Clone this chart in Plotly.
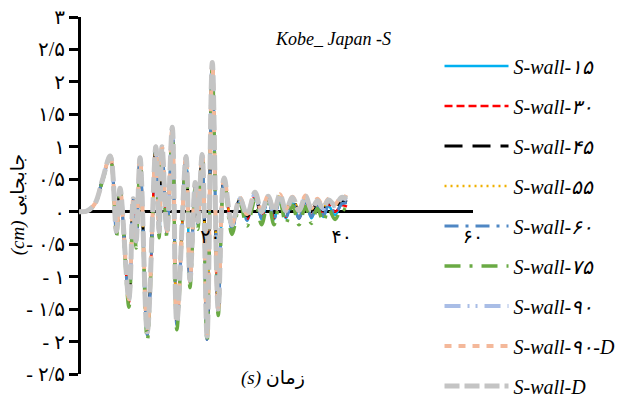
import plotly.graph_objects as go

# Persian digits for labels
FA = str.maketrans("0123456789", "۰۱۲۳۴۵۶۷۸۹")


def fa(s):
    return s.translate(FA)


# ---- data: time (s) and displacement (cm) ----
t_main = [0, 1.2, 2.4, 3.6, 4.75, 5.7, 6.25, 7.6, 8.25, 8.7, 9.3, 10.4, 11.7, 12.2,
          12.65, 13.4, 14.2, 14.9, 16.3, 16.9, 17.7, 18.1, 18.75, 19.5, 20.3, 21.2, 22.1]
v_main = [0, 0.01, 0.12, 0.5, 0.86, -0.3, 0.36, -1.35, 0.2, -0.45, 0.83, -1.85, 1.0, -0.3,
          1.0, -0.3, 1.3, -1.7, 0.85, -1.05, 0.45, -0.15, 0.88, -1.92, 2.3, -1.5, 0.52]
v_main_lo = [0, 0.01, 0.12, 0.5, 0.85, -0.34, 0.35, -1.4, 0.18, -0.5, 0.82, -1.9, 0.98, -0.34,
             0.98, -0.34, 1.28, -1.75, 0.83, -1.1, 0.43, -0.2, 0.86, -1.97, 2.28, -1.55, 0.5]
v_main_75 = [0, 0.01, 0.11, 0.48, 0.83, -0.38, 0.32, -1.47, 0.14, -0.56, 0.78, -1.98, 0.94, -0.4,
             0.94, -0.4, 1.24, -1.82, 0.79, -1.17, 0.39, -0.27, 0.82, -2.02, 2.24, -1.6, 0.46]

t_tail = [23.3, 24.5, 25.6, 26.8, 27.8, 28.8, 29.7, 30.6, 31.5, 32.5, 33.5, 34.5, 35.4,
          36.3, 37.2, 38.0, 39.0, 40.0, 40.8]
tail_15 = [-0.27, 0.15, -0.14, 0.23, -0.12, 0.18, -0.12, 0.19, -0.1, 0.15, -0.11, 0.14, -0.1,
           0.1, -0.08, 0.09, -0.05, 0.12, 0.14]
tail_30 = [-0.25, 0.17, -0.12, 0.25, -0.08, 0.2, -0.1, 0.22, -0.08, 0.18, -0.1, 0.17, -0.06,
           0.13, -0.04, 0.12, 0.0, 0.1, 0.08]
tail_45 = [-0.22, 0.19, -0.07, 0.27, -0.03, 0.22, -0.02, 0.24, 0.0, 0.2, 0.0, 0.21, 0.01,
           0.15, 0.02, 0.15, 0.05, 0.17, 0.15]
tail_55 = [-0.2, 0.21, -0.05, 0.29, 0.0, 0.24, 0.01, 0.26, 0.02, 0.22, 0.03, 0.23, 0.04,
           0.18, 0.05, 0.19, 0.1, 0.21, 0.2]
tail_60 = [-0.26, 0.16, -0.13, 0.24, -0.1, 0.19, -0.11, 0.2, -0.09, 0.16, -0.1, 0.15, -0.08,
           0.11, -0.06, 0.1, -0.03, 0.12, 0.14]
tail_75 = [-0.35, 0.12, -0.22, 0.18, -0.2, 0.14, -0.2, 0.15, -0.18, 0.1, -0.2, 0.08, -0.18,
           0.05, -0.15, 0.04, -0.12, 0.05, 0.0]
tail_90 = [-0.21, 0.2, -0.06, 0.28, -0.01, 0.23, -0.01, 0.25, 0.01, 0.21, 0.01, 0.22, 0.02,
           0.16, 0.04, 0.17, 0.08, 0.2, 0.18]
tail_90D = [-0.2, 0.22, -0.04, 0.3, 0.02, 0.25, 0.02, 0.27, 0.04, 0.23, 0.04, 0.25, 0.06,
            0.2, 0.08, 0.2, 0.12, 0.24, 0.22]
tail_D = [-0.2, 0.2, -0.05, 0.3, 0.0, 0.24, 0.0, 0.27, 0.02, 0.22, 0.02, 0.24, 0.03,
          0.17, 0.05, 0.18, 0.1, 0.22, 0.2]

names = ["S-wall-15", "S-wall-30", "S-wall-45", "S-wall-55", "S-wall-60",
         "S-wall-75", "S-wall-90", "S-wall-90-D", "S-wall-D"]
mains = [v_main_lo, v_main_lo, v_main, v_main, v_main_lo, v_main_75, v_main, v_main, v_main]
tails = [tail_15, tail_30, tail_45, tail_55, tail_60, tail_75, tail_90, tail_90D, tail_D]

colors = ["#00B0F0", "#FF0000", "#000000", "#F0B000", "#4F87C4",
          "#6AAA44", "#A9BDE6", "#F4B89A", "#C4C4C4"]
dashes = ["solid", "8px,4px", "18px,10px", "2px,4px", "14px,7px,3px,7px",
          "16px,9px,3px,9px", "16px,7px,2px,6px,2px,7px", "7px,7px", "15px,5px"]
widths = [2.5, 2.5, 3, 2.5, 3, 3.5, 4, 4, 5]

y_ticks = [3, 2.5, 2, 1.5, 1, 0.5, 0, -0.5, -1, -1.5, -2, -2.5]
y_ticktext = [fa(f"{v:g}".replace(".", "/")).replace("-", "- ") for v in y_ticks]
x_ticks = [20, 40, 60]
x_ticktext = [fa(str(v)) for v in x_ticks]

fig = go.Figure()
for i, name in enumerate(names):
    fig.add_trace(go.Scatter(
        x=t_main + t_tail, y=mains[i] + tails[i],
        mode="lines", name=fa(name), legendgroup=f"g{i}",
        line=dict(color=colors[i], width=widths[i], dash=dashes[i],
                  shape="spline", smoothing=1.0),
        hoverinfo="skip",
    ))

serif = "Liberation Serif, DejaVu Sans"

fig.update_layout(
    width=625, height=418,
    margin=dict(l=79, r=152, t=17, b=44, autoexpand=False),
    paper_bgcolor="white", plot_bgcolor="white",
    showlegend=True,
    legend=dict(
        x=0.915, y=0.889, xanchor="left", yanchor="top", yref="container",
        itemwidth=64, tracegroupgap=11, maxheight=418,
        bgcolor="rgba(0,0,0,0)",
        font=dict(family=serif, size=20, color="black", style="italic"),
    ),
    # time axis: its zero line is the vertical axis line; labels sit under y = 0
    xaxis=dict(
        range=[0, 60], showline=False, ticks="",
        tickvals=x_ticks, ticktext=x_ticktext,
        ticklabelposition="inside", ticklabeloverflow="allow",
        ticklabelstandoff=124,
        tickfont=dict(family=serif, size=19, color="black"),
        showgrid=False, zeroline=True, zerolinecolor="black", zerolinewidth=3,
        layer="above traces", automargin=False,
    ),
    yaxis=dict(
        range=[-2.5, 3], showline=False, mirror=False,
        tickvals=y_ticks, ticktext=y_ticktext,
        ticks="outside", ticklen=9, tickwidth=3, tickcolor="#000000",
        tickfont=dict(family=serif, size=20, color="black"),
        showgrid=False, zeroline=True, zerolinecolor="black", zerolinewidth=3,
        automargin=False,
    ),
    annotations=[
        dict(text="<i>Kobe_ Japan -S</i>", xref="paper", yref="paper",
             x=0.645, y=0.938, xanchor="center", yanchor="middle", showarrow=False,
             font=dict(family=serif, size=18, color="black")),
        dict(text="<i>(s)</i> زمان", xref="paper", yref="paper",
             x=0.492, y=-0.011, xanchor="center", yanchor="middle", showarrow=False,
             font=dict(family=serif, size=19, color="black")),
        dict(text="<i>(cm)</i> جابجایی", xref="paper", yref="paper",
             x=-0.155, y=0.475, xanchor="center", yanchor="middle",
             textangle=-90, showarrow=False,
             font=dict(family=serif, size=19, color="black")),
    ],
)

fig.write_html("out.html")
